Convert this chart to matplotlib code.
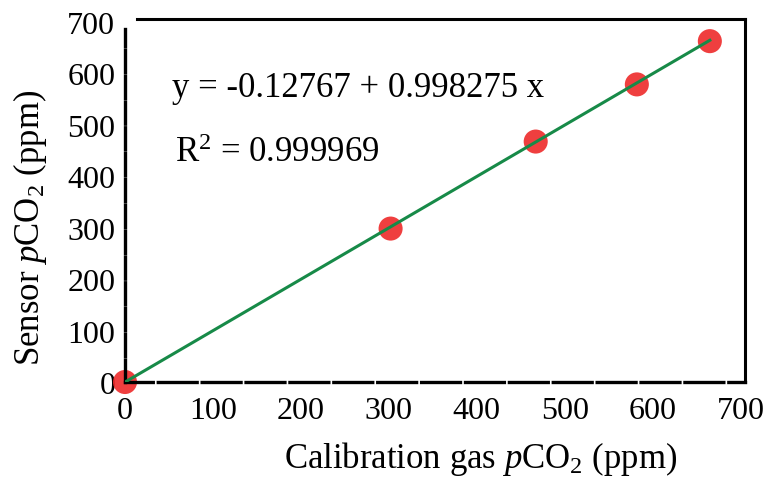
"""Sensor pCO2 calibration plot."""

from __future__ import annotations

import numpy as np
import matplotlib
matplotlib.use("Agg")
import matplotlib.pyplot as plt

# calibration points
calib_gas = [0, 302, 467, 582, 665]
sensor = [0, 298, 467, 578, 662]

# fit coefficients as printed on the chart
intercept = -0.12767
slope = 0.998275
r_squared = 0.999969

x_ticks = [0, 100, 200, 300, 400, 500, 600, 700]
y_ticks = [0, 100, 200, 300, 400, 500, 600, 700]


def make_plot() -> None:
    plt.rcParams["font.family"] = "Liberation Serif"
    plt.rcParams["mathtext.fontset"] = "custom"
    plt.rcParams["mathtext.rm"] = "Liberation Serif"
    plt.rcParams["mathtext.it"] = "Liberation Serif:italic"
    plt.rcParams["lines.scale_dashes"] = False

    fig = plt.figure(figsize=(7.73, 4.81), dpi=100)
    ax = fig.add_axes([0.1617, 0.2037, 0.8021, 0.7547])

    xfit = np.array([0, max(calib_gas)])
    ax.plot(xfit, intercept + slope * xfit, color="#178a48", lw=2.2, zorder=3)
    ax.scatter(calib_gas, sensor, s=300, color="#ee2a2a", alpha=0.9,
               edgecolors="none", zorder=2, clip_on=False)

    ax.set_xlim(0, 705)
    ax.set_ylim(0, 705)
    ax.set_xticks(x_ticks)
    ax.set_yticks(y_ticks)
    ax.tick_params(length=0, labelsize=23)
    ax.tick_params(axis="x", pad=10)
    ax.tick_params(axis="y", pad=7)

    for side in ("top", "right"):
        ax.spines[side].set_linewidth(2.2)
    ax.spines["top"].set_bounds(14, 705)
    ax.spines["left"].set_linewidth(2.4)
    ax.spines["left"].set_linestyle((0, (16, 2.6)))
    ax.spines["left"].set_bounds(0, 685)
    ax.spines["bottom"].set_linewidth(2.4)
    ax.spines["bottom"].set_linestyle((8, (28, 3.6)))

    ax.set_xlabel(r"Calibration gas $\mathit{p}$CO$_2$ (ppm)", fontsize=25)
    ax.set_ylabel(r"Sensor $\mathit{p}$CO$_2$ (ppm)", fontsize=25)
    ax.xaxis.set_label_coords(0.573, -0.158)
    ax.yaxis.set_label_coords(-0.122, 0.428)

    ax.text(0.076, 0.812, f"y = {intercept:.5f} + {slope} x",
            transform=ax.transAxes, fontsize=25, va="center", ha="left")
    ax.text(0.081, 0.632, r"R$^2$ = " + f"{r_squared}",
            transform=ax.transAxes, fontsize=25, va="center", ha="left")

    fig.savefig("out.png", dpi=100)


if __name__ == "__main__":
    make_plot()
